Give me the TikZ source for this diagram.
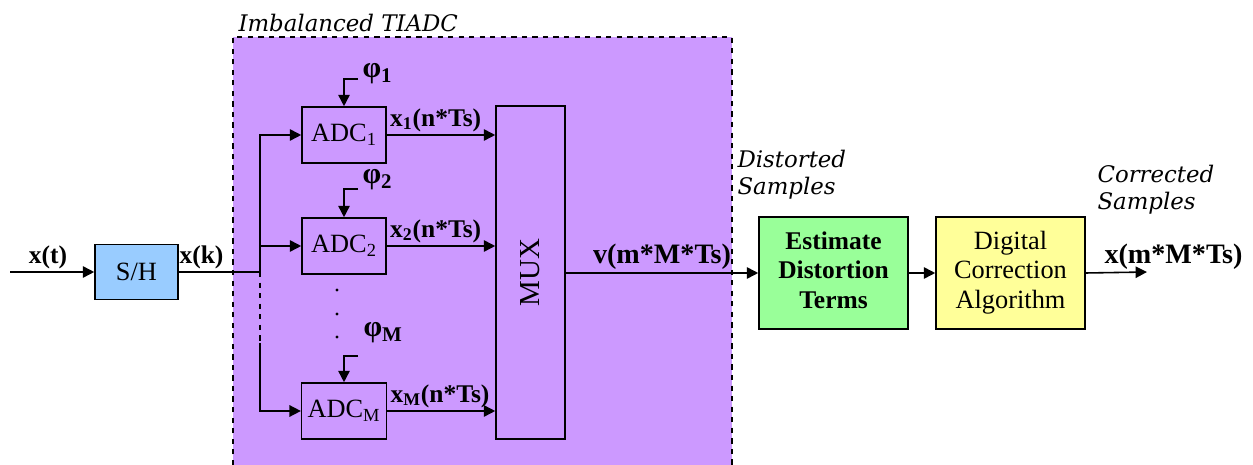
\documentclass[tikz,border=0pt]{standalone}
\usepackage{fontspec}
\setmainfont{Liberation Serif}
\newfontfamily\notefont{DejaVu Serif}
\usepackage{tikz}
\usetikzlibrary{arrows.meta, positioning, calc}
\definecolor{tiadcPurple}{RGB}{204, 153, 255}
\definecolor{shBlue}{RGB}{153, 204, 255}
\definecolor{estGreen}{RGB}{153, 255, 153}
\definecolor{algYellow}{RGB}{255, 255, 153}
\newcommand{\stackc}[1]{\begin{tabular}{@{}c@{}}#1\end{tabular}}
\newcommand{\stackl}[1]{\begin{tabular}{@{}l@{}}#1\end{tabular}}

\begin{document}
\begin{tikzpicture}[
  x=0.02cm, y=-0.02cm,
  line width=0.9pt,
  blk/.style={draw, line width=0.9pt, font=\fontsize{15}{17}\selectfont},
  adc/.style={blk, minimum width=1.68cm, minimum height=1.12cm},
  sig/.style={font=\fontsize{14.5}{16}\selectfont\bfseries, inner sep=1.5pt},
  phase/.style={font=\fontsize{17}{18}\selectfont\bfseries, inner sep=1pt},
  note/.style={font=\notefont\fontsize{13}{15.5}\selectfont\itshape, inner sep=1pt},
  >={Triangle[length=6.5pt, width=6.5pt]}
]
  \useasboundingbox (0,0) rectangle (1253,465);

  % Imbalanced TIADC region
  \fill[tiadcPurple] (233,37) rectangle (732,465);
  \draw[dashed, line width=0.8pt] (233,465) -- (233,37) -- (732,37) -- (732,465);
  \node[note, anchor=south west] (tiadc) at (236,34) {Imbalanced TIADC};

  % Sample and hold
  \node[blk, fill=shBlue, minimum width=1.66cm, minimum height=1.1cm]
    (sh) at (136.5,272) {S/H};
  \coordinate (xin) at (10,272);
  \draw[->] (xin) -- (sh.west) node[sig, pos=0.45, above] {x(t)};

  % ADC channels
  \node[adc] (adc1) at (344,135) {ADC\textsubscript{1}};
  \node[adc] (adc2) at (344,246) {ADC\textsubscript{2}};
  \node[adc] (adcm) at (344,411) {ADC\textsubscript{M}};

  % Multiplexer
  \node[blk, minimum width=1.38cm, minimum height=6.66cm,
        label={[rotate=90, font=\fontsize{16.5}{18}\selectfont]center:MUX}]
    (mux) at (530.5,272.5) {};

  % Input bus
  \coordinate (bj) at (260,272);
  \coordinate (bm) at (260,343);
  \draw (sh.east) -- (bj) node[sig, pos=0.28, above] {x(k)};
  \draw[->] (bj) |- (adc1.west);
  \draw[->] (bj |- adc2.west) -- (adc2.west);
  \draw[dashed] (bj) -- (bm);
  \draw[->] (bm) |- (adcm.west);

  % Clock phases
  \coordinate (ph1) at (358,79);
  \coordinate (ph2) at (358,189);
  \coordinate (phm) at (358,356);
  \draw[->] (ph1) -| (adc1.north);
  \draw[->] (ph2) -| (adc2.north);
  \draw[->] (phm) -| (adcm.north);
  \node[phase, anchor=west] (lph1) at ($(ph1)+(2,-5)$) {φ\textsubscript{1}};
  \node[phase, anchor=west] (lph2) at ($(ph2)+(2,-9)$) {φ\textsubscript{2}};
  \node[phase, anchor=west] (lphm) at (361,333) {φ\textsubscript{M}};
  \foreach \yy in {290,314,337}
    \fill (337,\yy) circle (1.6);

  % Channel outputs to MUX
  \draw[->] (adc1.east) -- (adc1.east -| mux.west)
    node[sig, pos=0, anchor=south west] {x\textsubscript{1}(n*Ts)};
  \draw[->] (adc2.east) -- (adc2.east -| mux.west)
    node[sig, pos=0, anchor=south west] {x\textsubscript{2}(n*Ts)};
  \draw[->] (adcm.east) -- (adcm.east -| mux.west)
    node[sig, pos=0, anchor=south west] {x\textsubscript{M}(n*Ts)};

  % Correction chain
  \node[blk, fill=estGreen, font=\fontsize{14.5}{17}\selectfont\bfseries,
        minimum width=2.98cm, minimum height=2.24cm]
    (est) at (833.5,273) {\stackc{Estimate\\Distortion\\Terms}};
  \node[blk, fill=algYellow, minimum width=2.98cm, minimum height=2.24cm]
    (alg) at (1010.5,273) {\stackc{Digital\\Correction\\Algorithm}};
  \coordinate (xout) at (1147,272);

  \draw[->] (mux.east |- est.west) -- (est.west)
    node[sig, midway, above, font=\fontsize{16}{18}\selectfont\bfseries]
    {v(m*M*Ts)};
  \draw[->] (est.east) -- (alg.west);
  \draw[->] (alg.east) -- (xout)
    node[sig, pos=0.25, anchor=south west,
         font=\fontsize{16}{18}\selectfont\bfseries] {x(m*M*Ts)};

  \node[note, anchor=north west] (dist) at (735,146) {\stackl{Distorted\\Samples}};
  \node[note, anchor=north west] (corr) at (1095,161) {\stackl{Corrected\\Samples}};

\end{tikzpicture}
\end{document}
